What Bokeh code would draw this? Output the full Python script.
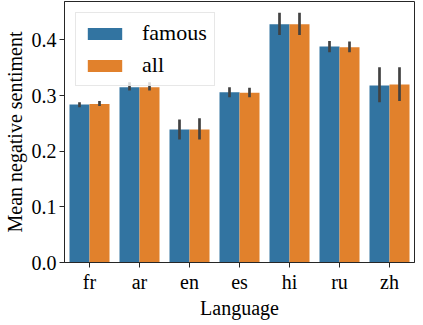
from bokeh.plotting import figure
from bokeh.models import ColumnDataSource, FactorRange, Range1d, FixedTicker, PrintfTickFormatter
from bokeh.transform import dodge
from bokeh.embed import file_html
from bokeh.resources import INLINE

langs = ["fr", "ar", "en", "es", "hi", "ru", "zh"]
famous = [0.284, 0.315, 0.239, 0.306, 0.428, 0.388, 0.318]
famous_lo = [0.279, 0.309, 0.221, 0.297, 0.409, 0.378, 0.288]
famous_hi = [0.288, 0.324, 0.257, 0.315, 0.449, 0.398, 0.351]
all_vals = [0.285, 0.315, 0.239, 0.305, 0.428, 0.387, 0.320]
all_lo = [0.281, 0.309, 0.221, 0.297, 0.409, 0.378, 0.290]
all_hi = [0.290, 0.324, 0.259, 0.314, 0.449, 0.397, 0.351]
y_ticks = [0.0, 0.1, 0.2, 0.3, 0.4]

BLUE = "#3274a1"
ORANGE = "#e1812c"
ERR = "#424242"
FONT = "'Liberation Serif', serif"

src = ColumnDataSource(dict(lang=langs, famous=famous, famous_lo=famous_lo, famous_hi=famous_hi,
                            all=all_vals, all_lo=all_lo, all_hi=all_hi))

p = figure(frame_width=350, frame_height=261, x_range=FactorRange(*langs), y_range=Range1d(0, 0.469),
           output_backend="svg", toolbar_location=None,
           min_border_left=0, min_border_right=1, min_border_top=1, min_border_bottom=0)

p.vbar(x=dodge("lang", -0.2, range=p.x_range), top="famous", width=0.4, source=src,
       fill_color=BLUE, line_color=None, legend_label="famous")
p.vbar(x=dodge("lang", 0.2, range=p.x_range), top="all", width=0.4, source=src,
       fill_color=ORANGE, line_color=None, legend_label="all")

p.segment(x0=dodge("lang", -0.2, range=p.x_range), x1=dodge("lang", -0.2, range=p.x_range),
          y0="famous_lo", y1="famous_hi", source=src, line_color=ERR, line_width=2.7)
p.segment(x0=dodge("lang", 0.2, range=p.x_range), x1=dodge("lang", 0.2, range=p.x_range),
          y0="all_lo", y1="all_hi", source=src, line_color=ERR, line_width=2.7)

p.xgrid.visible = False
p.ygrid.visible = False
p.outline_line_color = "#262626"
p.outline_line_width = 1

for ax in (p.xaxis[0], p.yaxis[0]):
    ax.axis_line_color = "#262626"
    ax.major_tick_line_color = "#262626"
    ax.major_tick_out = 5
    ax.major_tick_in = 0
    ax.minor_tick_line_color = None
    ax.major_label_text_font = FONT
    ax.major_label_text_font_size = "20px"
    ax.major_label_text_color = "black"
    ax.axis_label_text_font = FONT
    ax.axis_label_text_font_size = "20px"
    ax.axis_label_text_font_style = "normal"
    ax.axis_label_text_color = "black"

p.xaxis.axis_label = "Language"
p.yaxis.axis_label = "Mean negative sentiment"
p.yaxis.ticker = FixedTicker(ticks=y_ticks)
p.yaxis.formatter = PrintfTickFormatter(format="%.1f")
p.xaxis.major_label_standoff = 3
p.yaxis.major_label_standoff = 3
p.xaxis.axis_label_standoff = 1
p.yaxis.axis_label_standoff = 3

lg = p.legend[0]
lg.location = "top_left"
lg.margin = 11
lg.padding = 7
lg.spacing = 6
lg.glyph_width = 43
lg.glyph_height = 15
lg.label_standoff = 16
lg.label_text_font = FONT
lg.label_text_font_size = "22px"
lg.label_height = 24
lg.border_line_color = "#d0d0d0"
lg.border_line_width = 1
lg.background_fill_alpha = 0.8
lg.label_text_color = "black"

open("out.html", "w").write(file_html(p, INLINE))
